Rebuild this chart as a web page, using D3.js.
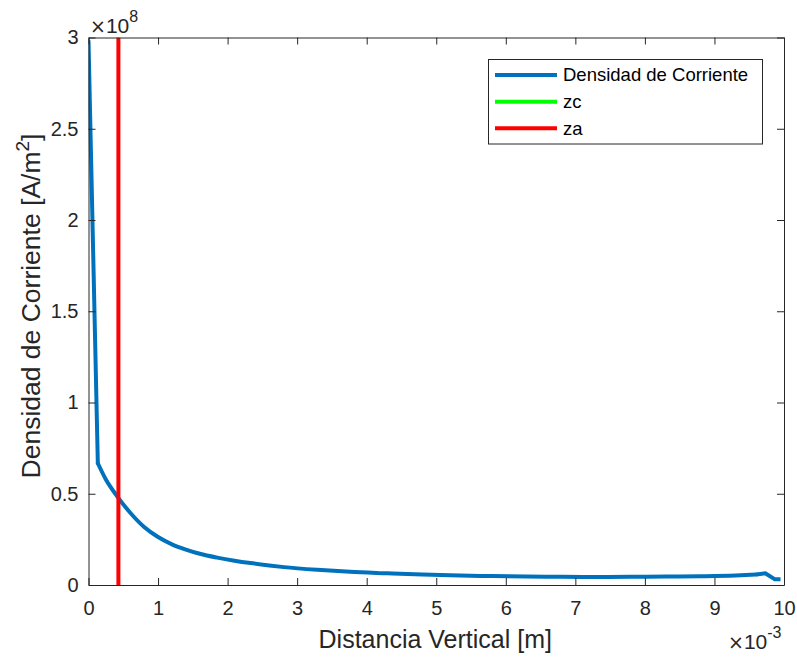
<!DOCTYPE html>
<html>
<head>
<meta charset="utf-8">
<script src="https://cdn.jsdelivr.net/npm/d3@7"></script>
<style>
  html, body { margin: 0; padding: 0; background: #fff; }
  svg { display: block; font-family: "Liberation Sans", Arial, Helvetica, sans-serif; }
</style>
</head>
<body>
<svg id="chart" width="797" height="658"></svg>
<script>
// Data (x in units of 1e-3 m, y in units of 1e8 A/m^2)
const distance = [0, 0.134, 0.25, 0.412, 0.6, 0.8, 1.0, 1.2, 1.4, 1.6, 1.85, 2.1, 2.33, 2.6, 2.81, 3.29, 3.76, 4.3, 4.8, 5.2, 5.8, 6.3, 6.8, 7.3, 7.8, 8.3, 8.8, 9.3, 9.6, 9.73, 9.87, 9.95];
const density  = [2.98, 0.667, 0.578, 0.486, 0.396, 0.318, 0.263, 0.223, 0.194, 0.171, 0.150, 0.133, 0.120, 0.107, 0.098, 0.083, 0.072, 0.064, 0.057, 0.053, 0.049, 0.046, 0.045, 0.044, 0.045, 0.046, 0.048, 0.052, 0.057, 0.064, 0.031, 0.031];
const zcPos = [0.43];
const zaPos = [0.43];
const xTicks = [0, 1, 2, 3, 4, 5, 6, 7, 8, 9, 10];
const yTicks = [0, 0.5, 1, 1.5, 2, 2.5, 3];
const legendLabels = ["Densidad de Corriente", "zc", "za"];
const seriesColors = ["#0072BD", "#00FF00", "#FF0000"];

(function () {
const svg = d3.select("#chart");
const mL = 88.5, mR = 784, mT = 37.5, mB = 585;
const x = d3.scaleLinear().domain([0, 10]).range([mL, mR]);
const y = d3.scaleLinear().domain([0, 3]).range([mB, mT]);
const axisColor = "#262626";
const lw = 4;

svg.append("defs").append("clipPath").attr("id", "clip")
  .append("rect").attr("x", mL).attr("y", mT).attr("width", mR - mL).attr("height", mB - mT);

// Curves
const plot = svg.append("g").attr("clip-path", "url(#clip)");
const pts = distance.map((d, i) => [d, density[i]]);
const lineLin = d3.line().x(d => x(d[0])).y(d => y(d[1]));
const lineSmooth = d3.line().x(d => x(d[0])).y(d => y(d[1])).curve(d3.curveMonotoneX);
plot.append("path").datum(pts.slice(0, 2))
  .attr("d", lineLin).attr("fill", "none")
  .attr("stroke", seriesColors[0]).attr("stroke-width", lw).attr("stroke-linecap", "round");
plot.append("path").datum(pts.slice(1, pts.length - 3))
  .attr("d", lineSmooth).attr("fill", "none")
  .attr("stroke", seriesColors[0]).attr("stroke-width", lw)
  .attr("stroke-linejoin", "round").attr("stroke-linecap", "round");
plot.append("path").datum(pts.slice(pts.length - 4))
  .attr("d", lineLin).attr("fill", "none")
  .attr("stroke", seriesColors[0]).attr("stroke-width", lw)
  .attr("stroke-linejoin", "round");
plot.append("line")
  .attr("x1", x(zcPos[0])).attr("x2", x(zcPos[0]))
  .attr("y1", y(0)).attr("y2", y(3))
  .attr("stroke", seriesColors[1]).attr("stroke-width", lw - 1.5);
plot.append("line")
  .attr("x1", x(zaPos[0])).attr("x2", x(zaPos[0]))
  .attr("y1", y(0)).attr("y2", y(3))
  .attr("stroke", seriesColors[2]).attr("stroke-width", lw);

// Axes
const tickLen = 7;
const xAxisB = svg.append("g").attr("transform", `translate(0,${mB})`)
  .call(d3.axisBottom(x).tickValues(xTicks).tickSizeInner(-tickLen).tickSizeOuter(0).tickFormat(d3.format("d")));
const xAxisT = svg.append("g").attr("transform", `translate(0,${mT})`)
  .call(d3.axisTop(x).tickValues(xTicks).tickSizeInner(-tickLen).tickSizeOuter(0).tickFormat(""));
const yAxisL = svg.append("g").attr("transform", `translate(${mL},0)`)
  .call(d3.axisLeft(y).tickValues(yTicks).tickSizeInner(-tickLen).tickSizeOuter(0).tickPadding(10).tickFormat(d => d3.format("")(d)));
const yAxisR = svg.append("g").attr("transform", `translate(${mR},0)`)
  .call(d3.axisRight(y).tickValues(yTicks).tickSizeInner(-tickLen).tickSizeOuter(0).tickFormat(""));

[xAxisB, xAxisT, yAxisL, yAxisR].forEach(g => {
  g.select(".domain").attr("stroke", axisColor).attr("stroke-width", 1);
  g.selectAll(".tick line").attr("stroke", axisColor).attr("stroke-width", 1);
  g.selectAll(".tick text").attr("fill", axisColor).attr("font-size", 20)
    .attr("font-family", "Liberation Sans, Arial, sans-serif");
});
xAxisB.selectAll(".tick text").attr("dy", "0.71em").attr("y", 16);

// Exponent labels
function expLabel(px, py, sup) {
  const t = svg.append("text").attr("x", px).attr("y", py).attr("fill", axisColor).attr("font-size", 21);
  t.append("tspan").attr("font-family", "DejaVu Sans, sans-serif").attr("font-size", 19).text("\u00D7");
  t.append("tspan").text("10");
  t.append("tspan").attr("dy", -11).attr("font-size", 16).text(sup);
}
expLabel(90, 33, "8");
expLabel(728, 649, "-3");

// Axis labels
svg.append("text").attr("x", (mL + mR) / 2 - 1).attr("y", 648)
  .attr("text-anchor", "middle").attr("fill", axisColor).attr("font-size", 25)
  .text("Distancia Vertical [m]");
const yl = svg.append("text")
  .attr("transform", `translate(40,306) rotate(-90)`)
  .attr("text-anchor", "middle").attr("fill", axisColor).attr("font-size", 26.5);
yl.append("tspan").text("Densidad de Corriente [A/m");
yl.append("tspan").attr("dy", -11).attr("font-size", 19).text("2");
yl.append("tspan").attr("dy", 11).text("]");

// Legend
const lg = svg.append("g");
lg.append("rect").attr("x", 488.5).attr("y", 59.5).attr("width", 274).attr("height", 84.5)
  .attr("fill", "#fff").attr("stroke", axisColor).attr("stroke-width", 1);
const rows = [75, 101.7, 128.3];
legendLabels.forEach((lab, i) => {
  lg.append("line").attr("x1", 495).attr("x2", 557).attr("y1", rows[i]).attr("y2", rows[i])
    .attr("stroke", seriesColors[i]).attr("stroke-width", lw);
  lg.append("text").attr("x", 563).attr("y", rows[i]).attr("dy", "0.35em")
    .attr("fill", "#000").attr("font-size", 18.5).text(lab);
});
})();
</script>
</body>
</html>
